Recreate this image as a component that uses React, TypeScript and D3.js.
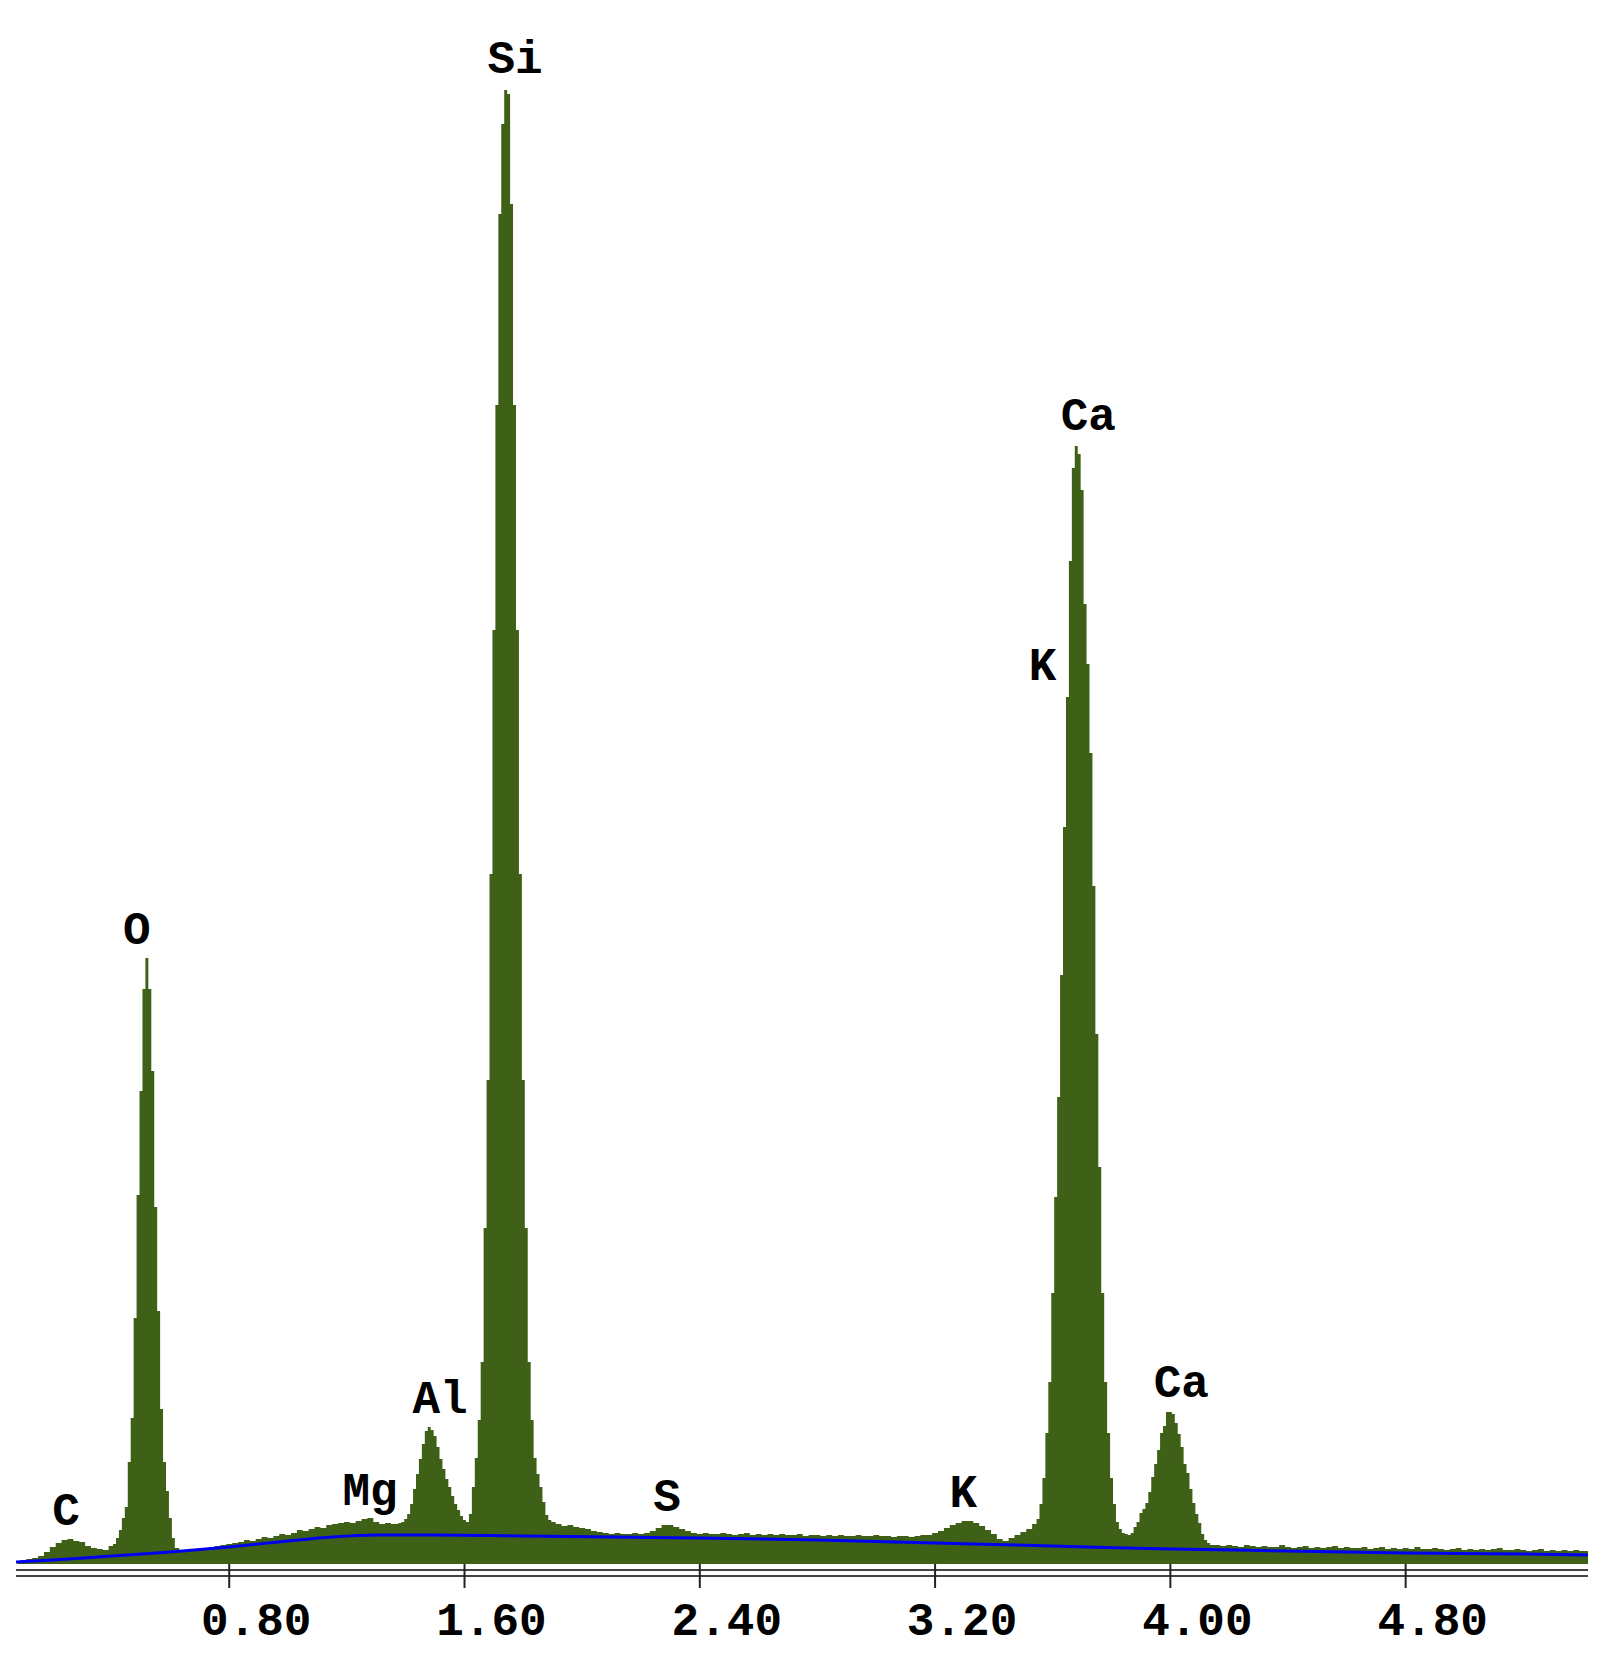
import React from 'react';
import * as d3 from 'd3';

// energy axis, keV
const energyDomain = [0.075, 5.42];
const tickValues = [0.8, 1.6, 2.4, 3.2, 4.0, 4.8];

// spectrum segments: first channel energy (keV), channel step (keV), counts
const lowTailStart = 0.08;
const lowTailStep = 0.02;
const lowTailCounts = [3, 4, 5, 6, 8, 12, 17, 21, 24, 25, 23, 22, 18, 16, 15, 14];

const oxygenStart = 0.40;
const oxygenStep = 0.01;
const oxygenCounts = [18, 20, 26, 34, 46, 57, 102, 146, 246, 369, 473, 575, 606, 575, 493, 357, 253, 155, 102, 73, 46, 26, 16];

const midStart = 0.64;
const midStep = 0.02;
const midCounts = [
  14, 14, 15, 14, 16, 17, 18, 19, 20, 21, 22, 24, 23, 25, 27, 26, 28, 30, 29,
  31, 34, 33, 35, 37, 36, 39, 40, 41, 42, 41, 43, 45, 46, 42, 40, 41, 40,
];

const alSiStart = 1.37;
const alSiStep = 0.01;
const alSiCounts = [
  40, 41, 42, 45, 50, 60, 75, 90, 105, 120, 133, 137, 134, 128, 117, 105, 95, 85, 77, 68, 60, 54, 48,
  44, 42, 50, 77, 106, 144, 202, 336, 484, 690, 934, 1159, 1350, 1440, 1474, 1470, 1360, 1159, 934,
  690, 484, 336, 202, 144, 106, 90, 77, 62, 49, 44,
];

const sKStart = 1.90;
const sKStep = 0.02;
const sKCounts = [
  42, 40, 38, 39, 37, 36, 35, 33, 32, 31, 30, 31, 30, 30, 31, 30, 31, 33, 36, 39, 39, 37, 35, 33, 31,
  30, 31, 30, 30, 31, 30, 29, 30, 31, 29, 30, 29, 30, 29, 30, 29, 29, 30, 28, 29, 29, 28, 29, 28, 29,
  28, 28, 29, 28, 28, 29, 28, 28, 27, 28, 28, 27, 28, 29, 29, 31, 33, 36, 39, 41, 43, 43, 41, 38, 34,
  30, 25, 23, 26, 29, 32, 35,
];

const caStart = 3.54;
const caStep = 0.01;
const caCounts = [
  40, 45, 60, 86, 131, 182, 271, 367, 467, 589, 737, 867, 1003, 1096, 1118, 1110, 1074, 960, 900, 811,
  678, 530, 397, 271, 182, 131, 86, 60, 42, 35, 31, 30, 29, 31, 37, 42, 51, 55, 61, 72, 87, 100, 114,
  131, 138, 152, 152, 150, 141, 130, 117, 100, 91, 75, 61, 50, 41, 30, 24, 21, 19,
];

const highTailStart = 4.16;
const highTailStep = 0.02;
const highTailCounts = [
  19, 18, 19, 18, 17, 19, 18, 17, 18, 17, 17, 19, 17, 16, 17, 18, 16, 17, 16, 17, 18, 16, 17, 16, 16,
  17, 15, 16, 17, 15, 16, 15, 16, 15, 17, 15, 15, 16, 15, 14, 15, 16, 14, 15, 14, 15, 14, 15, 16, 14,
  14, 15, 14, 13, 14, 15, 13, 14, 13, 14, 13, 14, 13, 13,
];

// fitted background (blue line)
const bgKeV = [0.075, 0.2, 0.4, 0.6, 0.8, 1.0, 1.15, 1.3, 1.5, 1.8, 2.1, 2.4, 2.8, 3.2, 3.6, 4.0, 4.4, 4.8, 5.2, 5.42];
const bgCounts = [2, 4, 8, 12, 17, 23, 27, 29, 29, 28, 27, 26, 24, 21, 18, 15, 13, 11, 10, 9];

// peak labels: element, energy of label centre, count level of baseline
const peakLabels = ['C', 'O', 'Mg', 'Al', 'Si', 'S', 'K', 'K', 'Ca', 'Ca'];
const peakLabelKeV = [0.245, 0.486, 1.279, 1.517, 1.772, 2.289, 3.296, 3.565, 3.721, 4.037];
const peakLabelCounts = [39, 620, 59, 151, 1491, 53, 57, 884, 1134, 167];

const segments: [number, number, number[]][] = [
  [lowTailStart, lowTailStep, lowTailCounts],
  [oxygenStart, oxygenStep, oxygenCounts],
  [midStart, midStep, midCounts],
  [alSiStart, alSiStep, alSiCounts],
  [sKStart, sKStep, sKCounts],
  [caStart, caStep, caCounts],
  [highTailStart, highTailStep, highTailCounts],
];

const WIDTH = 1600;
const HEIGHT = 1672;
const FONT = "'Courier New', 'Liberation Mono', monospace";

const App = () => {
  const x = d3.scaleLinear().domain(energyDomain).range([16, 1588]);
  const y = d3.scaleLinear().domain([0, 1500]).range([1564, 64]);

  const channels: [number, number][] = segments.flatMap(([start, step, counts]) =>
    counts.map((c, i) => [start + i * step, c] as [number, number])
  );

  const area = d3.area<[number, number]>()
    .x(d => x(d[0]))
    .y0(y(0))
    .y1(d => y(d[1]))
    .curve(d3.curveStep);

  const bgLine = d3.line<number>()
    .x((d, i) => x(bgKeV[i]))
    .y(d => y(d))
    .curve(d3.curveMonotoneX);

  const fmt = d3.format('.2f');
  const axisY = 1570;

  return (
    <div>
      <style>{'body{margin:0;background:#fff}'}</style>
      <svg width={WIDTH} height={HEIGHT} style={{ display: 'block', background: '#fff' }}>
        <path d={area(channels) ?? ''} fill='#3e6117' />
        <path d={bgLine(bgCounts) ?? ''} fill='none' stroke='#0000f0' strokeWidth={3} />

        <line x1={16} x2={1588} y1={axisY} y2={axisY} stroke='#444' strokeWidth={2} />
        <line x1={16} x2={1588} y1={axisY + 6} y2={axisY + 6} stroke='#444' strokeWidth={2} />
        {tickValues.map(t => (
          <g key={t}>
            <line x1={x(t)} x2={x(t)} y1={1564} y2={1588} stroke='#222' strokeWidth={2} />
            <text x={x(t) + 27} y={1635} textAnchor='middle' fontFamily={FONT} fontWeight='bold'
              fontSize={46} fill='#000'>{fmt(t)}</text>
          </g>
        ))}

        {peakLabels.map((name, i) => (
          <text key={i} x={x(peakLabelKeV[i])} y={y(peakLabelCounts[i])} textAnchor='middle'
            fontFamily={FONT} fontWeight='bold' fontSize={46} fill='#000'>{name}</text>
        ))}
      </svg>
    </div>
  );
};

export default App;
